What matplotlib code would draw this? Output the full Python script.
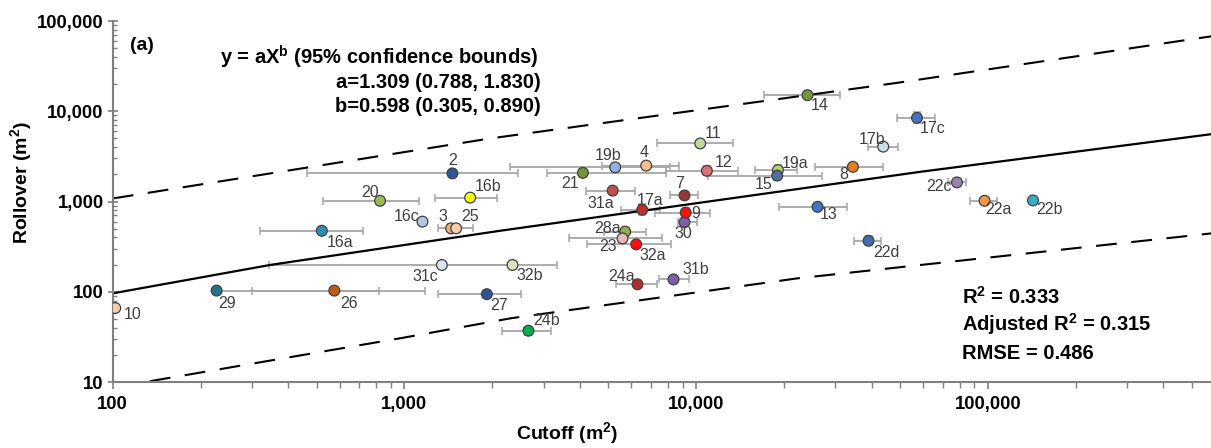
import numpy as np
import matplotlib
matplotlib.use('Agg')
import matplotlib.pyplot as plt
from matplotlib.ticker import FuncFormatter, LogLocator, NullFormatter

plt.rcParams['font.family'] = ['Liberation Sans', 'DejaVu Sans']
plt.rcParams['mathtext.fontset'] = 'custom'
plt.rcParams['mathtext.bf'] = 'Liberation Sans:bold'
plt.rcParams['mathtext.rm'] = 'Liberation Sans:bold'
plt.rcParams['mathtext.default'] = 'bf'

# site labels
labels = ['2', '20', '16b', '16c', '3', '25', '16a', '31c', '32b', '29',
          '26', '27', '10', '24b', '24a', '31b', '28a', '23', '32a', '30',
          '9', '7', '17a', '31a', '21', '19b', '4', '12', '11', '14',
          '19a', '15', '8', '17b', '17c', '13', '22d', '22c', '22a', '22b']

# cutoff area (m2)
cutoff = [1461, 825, 1680, 1153, 1446, 1504, 521, 1344, 2347, 227,
          575, 1917, 102, 2662, 6296, 8365, 5713, 5594, 6232, 9126,
          9211, 9126, 6535, 5176, 4091, 5280, 6744, 10890, 10330, 24100,
          19080, 18970, 34490, 43810, 57190, 26080, 39010, 78410, 97500, 142900]

# rollover area (m2)
rollover = [2047, 1018, 1104, 599, 504, 504, 474, 198, 198, 103,
            103, 94, 66, 37, 121, 137, 464, 390, 335, 591,
            754, 1168, 809, 1320, 2079, 2392, 2498, 2188, 4399, 15070,
            2227, 1936, 2423, 4055, 8450, 873, 367, 1628, 1018, 1028]

# cutoff range (horizontal bars), nan = no bar
cutoff_lo = [463, 527, 1274, np.nan, 1305, np.nan, 320, 344, 1344, 227,
             300, 1308, np.nan, 2158, 5321, 7490, 4841, 3679, 4222, 8683,
             7240, 8150, 5537, 4199, 3078, 2304, 4753, 7897, 7355, 17120,
             15950, 11000, 25610, 38930, 48820, 19280, 34850, 73200, 87100, np.nan]
cutoff_hi = [2460, 1123, 2084, np.nan, 1716, np.nan, 720, 2400, 3331, 820,
             1178, 2507, np.nan, 3177, 7338, 9418, 6744, 7632, 8196, 10090,
             11180, 10190, 7534, 6183, 7897, 8150, 8750, 13950, 13410, 31200,
             22220, 27060, 43710, 49060, 66070, 32890, 43130, 84400, 107800, np.nan]

# rollover range (vertical bars) for the sites that have one
rollover_range = {'17c': (7400, 9700), '19a': (1950, 2550), '12': (1950, 2450),
                  '15': (1750, 2150), '17a': (700, 930), '9': (680, 840),
                  '22d': (330, 410), '3': (460, 560), '24b': (33, 41),
                  '8': (2200, 2650), '13': (800, 950), '28a': (420, 510),
                  '7': (1080, 1260), '30': (550, 640), '22c': (1550, 1700)}

colors = ['#2f5597', '#9bbb59', '#ffff00', '#b4c7e7', '#f4b183', '#f8cbad',
          '#2e8fb5', '#dae3f3', '#d7e4bd', '#1f7391', '#c55a11', '#2f5597',
          '#f8cbad', '#00b050', '#b03030', '#7f60a8', '#8fb04a', '#e6b9b8',
          '#ff1010', '#7f60a8', '#ff1010', '#953735', '#c0302b', '#c0504d',
          '#76923c', '#8db4e2', '#fac090', '#da6f6f', '#c3d69b', '#77933c',
          '#b5d56a', '#4f6fa0', '#e67e22', '#c6e0ec', '#4472c4', '#4472c4',
          '#3a6fb0', '#9b80b8', '#f79646', '#31b0c6']

# label offsets in pixels (dx, dy)
label_offsets = [(0, 13), (-10, 8), (18, 11), (-16, 5), (-8, 12), (14, 12),
                 (18, -12), (-17, -12), (17, -11), (10, -13), (15, -13),
                 (12, -11), (17, -6), (18, 10), (-16, 8), (22, 10), (-18, 3),
                 (-14, -8), (16, -11), (-1, -11), (10, -1), (-5, 12), (8, 9),
                 (-12, -13), (-13, -11), (-7, 12), (-2, 13), (17, 8), (13, 10),
                 (12, -10), (17, 7), (-14, -9), (-9, -8), (-11, 7), (16, -11),
                 (11, -8), (18, -12), (-18, -4), (14, -9), (16, -9)]

# fitted curve and 95% bounds
fit_x = [100, 346, 2128, 58700, 583000]
fit_y = [96, 198, 474, 2133, 5570]
upper_x = [100, 1970, 48800, 583000]
upper_y = [1081, 5000, 20630, 67600]
lower_x = [134, 966, 2304, 22170, 583000]
lower_y = [10.2, 30.5, 50.7, 140.6, 443]

fig = plt.figure(figsize=(12.11, 4.48), dpi=100)
ax = fig.add_axes([0.0931, 0.1473, 0.907, 0.8058])

x = np.array(cutoff, dtype=float)
y = np.array(rollover, dtype=float)
lo = np.array(cutoff_lo, dtype=float)
hi = np.array(cutoff_hi, dtype=float)
has_bar = ~np.isnan(lo)
ax.errorbar(x[has_bar], y[has_bar], xerr=[x[has_bar] - lo[has_bar], hi[has_bar] - x[has_bar]],
            fmt='none', ecolor='#a6a6a6', elinewidth=1.3, capsize=3, capthick=1.1, zorder=1)
for name, (ylo, yhi) in rollover_range.items():
    i = labels.index(name)
    ax.errorbar([x[i]], [y[i]], yerr=[[y[i] - ylo], [yhi - y[i]]], fmt='none',
                ecolor='#a6a6a6', elinewidth=1.3, capsize=3, capthick=1.1, zorder=1)

ax.plot(fit_x, fit_y, color='black', lw=1.6, zorder=2)
ax.plot(upper_x, upper_y, color='black', lw=1.5, dashes=(10, 7), zorder=2)
ax.plot(lower_x, lower_y, color='black', lw=1.5, dashes=(10, 7), zorder=2)

ax.scatter(x, y, s=60, c=colors, edgecolors='#404040', linewidths=0.9, zorder=3)

for i, name in enumerate(labels):
    ax.annotate(name, (x[i], y[i]), xytext=label_offsets[i], textcoords='offset pixels',
                ha='center', va='center', fontsize=11.5, color='#404040', zorder=4)

ax.set_xscale('log')
ax.set_yscale('log')
ax.set_xlim(100, 583000)
ax.set_ylim(10, 100000)

fmt = FuncFormatter(lambda v, p: f'{int(round(v)):,}')
ax.xaxis.set_major_locator(LogLocator(base=10))
ax.yaxis.set_major_locator(LogLocator(base=10))
ax.xaxis.set_major_formatter(fmt)
ax.yaxis.set_major_formatter(fmt)
ax.xaxis.set_minor_formatter(NullFormatter())
ax.yaxis.set_minor_formatter(NullFormatter())

for lab in ax.get_xticklabels() + ax.get_yticklabels():
    lab.set_fontweight('bold')
    lab.set_fontsize(13.3)

ax.tick_params(axis='x', which='major', direction='out', length=5, width=1.2, color='#808080', pad=5)
ax.tick_params(axis='x', which='minor', direction='out', length=4, width=1, color='#808080')
ax.tick_params(axis='y', which='major', direction='inout', length=7, width=1.2, color='#808080', pad=3)
ax.tick_params(axis='y', which='minor', direction='in', length=3, width=1, color='#808080')

for side in ['top', 'right']:
    ax.spines[side].set_visible(False)
for side in ['left', 'bottom']:
    ax.spines[side].set_color('#808080')
    ax.spines[side].set_linewidth(1.5)

ax.set_xlabel('Cutoff (m$^2$)', fontsize=14, fontweight='bold', va='center')
ax.set_ylabel('Rollover (m$^2$)', fontsize=14, fontweight='bold', va='center')
ax.xaxis.set_label_coords(0.4137, -0.142)
ax.yaxis.set_label_coords(-0.0835, 0.554)

# text boxes
fig.text(130 / 1211, 1 - 45 / 448, '(a)', fontsize=14, fontweight='bold', va='center')
fig.text(220 / 1211, 1 - 57 / 448, 'y = aX$^b$ (95% confidence bounds)', fontsize=14.5,
         fontweight='bold', va='center')
fig.text(541 / 1211, 1 - 82 / 448, 'a=1.309 (0.788, 1.830)', fontsize=14.5,
         fontweight='bold', va='center', ha='right')
fig.text(541 / 1211, 1 - 106 / 448, 'b=0.598 (0.305, 0.890)', fontsize=14.5,
         fontweight='bold', va='center', ha='right')
fig.text(962 / 1211, 1 - 297 / 448, 'R$^2$ = 0.333', fontsize=14.5, fontweight='bold', va='center')
fig.text(962 / 1211, 1 - 324 / 448, 'Adjusted R$^2$ = 0.315', fontsize=14.5, fontweight='bold', va='center')
fig.text(962 / 1211, 1 - 353 / 448, 'RMSE = 0.486', fontsize=14.5, fontweight='bold', va='center')

fig.savefig('out.png', dpi=100)
